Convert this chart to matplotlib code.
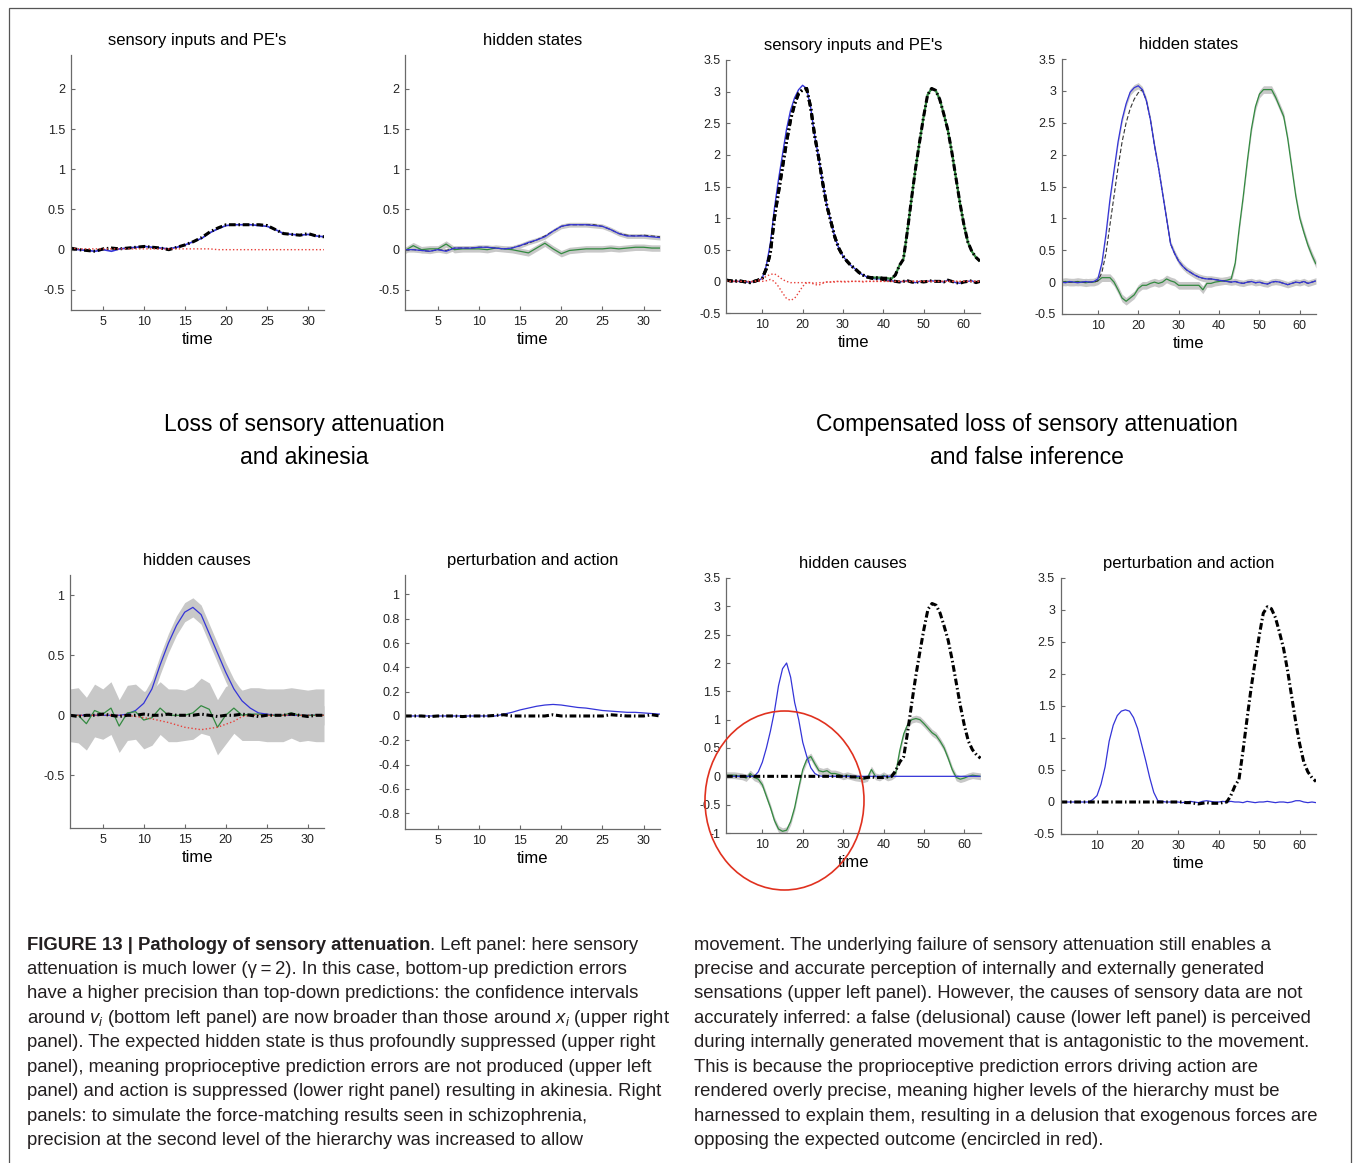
import numpy as np
import matplotlib
matplotlib.use('Agg')
import matplotlib.pyplot as plt
from matplotlib import font_manager
from matplotlib.patches import Ellipse, Rectangle
from matplotlib.ticker import FuncFormatter

W, H = 1355, 1163

installed = {f.name for f in font_manager.fontManager.ttflist}
NARROW = 'Liberation Sans Narrow' in installed

plt.rcParams['font.family'] = ['Liberation Sans', 'DejaVu Sans']
plt.rcParams['mathtext.fontset'] = 'custom'
plt.rcParams['mathtext.it'] = 'Liberation Sans:italic'
plt.rcParams['mathtext.rm'] = 'Liberation Sans'

# ---------------- data ----------------
t32 = np.arange(1, 33)
t64 = np.arange(1, 65)

# left: loss of sensory attenuation
s_left_obs = [0.02, 0.00, -0.01, -0.02, 0.01, 0.02, 0.01, 0.02, 0.03, 0.04, 0.03, 0.02, 0.00,
              0.03, 0.06, 0.10, 0.15, 0.22, 0.27, 0.31, 0.31, 0.31, 0.31, 0.31, 0.30, 0.25,
              0.20, 0.19, 0.18, 0.20, 0.17, 0.16]
s_left_pred = [0.01, 0.00, -0.01, -0.02, 0.00, -0.02, 0.01, 0.02, 0.03, 0.04, 0.03, 0.02, 0.01,
               0.03, 0.06, 0.10, 0.14, 0.21, 0.26, 0.30, 0.31, 0.31, 0.31, 0.30, 0.29, 0.25,
               0.20, 0.19, 0.18, 0.19, 0.17, 0.16]
s_left_pe = [0.02, 0.01, 0.01, 0.01, 0.01, 0.01, 0.01, 0.01, 0.01, 0.01, 0.01, 0.01, 0.01,
             0.01, 0.01, 0.01, 0.01, 0.01, 0.00, 0.00, 0.00, 0.00, 0.00, 0.00, 0.00, 0.00,
             0.00, 0.00, 0.00, 0.00, 0.00, 0.00]

x_left_1 = [0.00, 0.00, -0.01, -0.02, 0.00, -0.02, 0.02, 0.02, 0.02, 0.03, 0.03, 0.02, 0.01,
            0.02, 0.05, 0.09, 0.12, 0.16, 0.23, 0.29, 0.31, 0.31, 0.31, 0.30, 0.29, 0.25,
            0.20, 0.17, 0.17, 0.17, 0.16, 0.15]
x_left_true = [0.00, 0.00, -0.01, -0.02, 0.00, -0.01, 0.02, 0.02, 0.02, 0.03, 0.03, 0.02, 0.01,
               0.02, 0.05, 0.08, 0.12, 0.17, 0.23, 0.29, 0.31, 0.31, 0.31, 0.31, 0.29, 0.25,
               0.20, 0.18, 0.17, 0.18, 0.17, 0.16]
x_left_2 = [-0.01, 0.05, 0.00, 0.01, 0.01, 0.07, 0.00, 0.01, 0.01, 0.01, 0.00, 0.02, 0.01,
            0.00, -0.02, -0.04, 0.02, 0.08, 0.01, -0.05, -0.01, 0.00, 0.01, 0.01, 0.01, 0.02,
            0.01, 0.02, 0.03, 0.03, 0.02, 0.02]
x_left_ci1 = 0.03
x_left_ci2 = 0.04

v_left_1 = [0, 0, 0, 0, 0, 0, 0, 0.01, 0.04, 0.10, 0.22, 0.42, 0.60, 0.75, 0.86, 0.90, 0.84,
            0.68, 0.52, 0.36, 0.22, 0.12, 0.06, 0.02, 0.01, 0, 0, 0, 0, 0, 0, 0]
v_left_ci1 = 0.08
v_left_2 = [0.00, 0.00, -0.07, 0.04, 0.01, 0.06, -0.09, 0.02, 0.03, -0.04, -0.02, 0.06, 0.00,
            0.00, 0.00, 0.02, 0.08, 0.05, -0.10, 0.00, 0.06, 0.00, 0.01, 0.01, 0.00, 0.00,
            0.00, 0.02, 0.00, 0.00, 0.00, 0.00]
v_left_ci2 = [0.22, 0.23, 0.22, 0.22, 0.21, 0.22, 0.22, 0.23, 0.23, 0.24, 0.23, 0.22, 0.22,
              0.22, 0.21, 0.22, 0.23, 0.22, 0.23, 0.24, 0.21, 0.21, 0.22, 0.22, 0.22, 0.22,
              0.22, 0.21, 0.22, 0.21, 0.22, 0.22]
v_left_pe = [0, 0, 0, 0, 0, 0, 0, 0, -0.01, -0.02, -0.03, -0.045, -0.06, -0.08, -0.10, -0.11,
             -0.12, -0.11, -0.10, -0.075, -0.05, -0.01, 0, 0, 0, 0, 0, 0, 0, 0, 0, 0]
v_left_true = [0.00, -0.01, 0.00, 0.00, 0.01, 0.00, -0.01, 0.00, 0.00, 0.01, 0.00, 0.00, 0.01,
               0.00, 0.00, 0.00, 0.01, 0.00, -0.01, 0.00, 0.00, 0.01, 0.00, -0.01, 0.00, 0.00,
               0.00, 0.01, 0.00, -0.01, 0.00, 0.00]

a_left = [0, 0, 0, 0, 0, 0, 0, 0, 0, 0, 0, 0, 0.015, 0.03, 0.05, 0.065, 0.08, 0.09, 0.095,
          0.09, 0.08, 0.07, 0.065, 0.055, 0.045, 0.04, 0.035, 0.03, 0.03, 0.025, 0.02, 0.015]
pert_left = [0.00, 0.00, 0.00, -0.005, 0.00, 0.00, 0.00, -0.005, 0.00, 0.00, 0.00, 0.005,
             0.01, 0.00, 0.00, 0.00, 0.00, 0.00, 0.01, 0.00, 0.00, 0.00, 0.00, 0.00, 0.00,
             0.01, 0.005, 0.00, 0.00, 0.00, 0.01, 0.00]

# right: compensated loss of sensory attenuation
s_right_a_obs = [0.02, 0.01, 0.00, 0.01, 0.00, -0.01, -0.02, 0.00, 0.02,
                 0.05, 0.20, 0.45, 1.00, 1.40, 1.80, 2.20, 2.55, 2.80, 2.97, 3.03, 3.05,
                 2.75, 2.30, 1.95, 1.55, 1.20, 0.95, 0.70, 0.52, 0.40, 0.32, 0.25, 0.20,
                 0.14, 0.10, 0.07,
                 0.05, 0.04, 0.04, 0.03, 0.02, 0.01,
                 0.00, -0.01, 0.00, 0.01, -0.01, -0.02, 0.00, -0.01, 0.00, 0.01, 0.00, 0.00,
                 -0.01, 0.02, 0.00, -0.02, -0.03, -0.01, 0.00, 0.01, -0.02, 0.00]
s_right_a_pred = [0.01, 0.00, 0.00, 0.00, 0.00, -0.01, -0.01, 0.00, 0.01,
                  0.05, 0.25, 0.60, 1.15, 1.60, 2.00, 2.40, 2.70, 2.90, 3.03, 3.10, 3.05] \
                 + s_right_a_obs[21:]
s_right_b_obs = s_right_a_obs[:36] + [0.06, 0.06, 0.06, 0.05, 0.05, 0.04,
                                      0.10, 0.25, 0.35, 0.80, 1.30, 1.78, 2.20, 2.60, 2.95,
                                      3.05, 3.02, 2.88, 2.65, 2.40, 2.05, 1.65, 1.25, 0.90,
                                      0.62, 0.47, 0.38, 0.32]
s_right_pe_a = [0.01, 0.00, 0.00, 0.00, 0.00, 0.00, -0.01, 0.00, 0.02, 0.04,
                0.08, 0.11, 0.12, 0.08, 0.03, 0.00, -0.02, -0.02, -0.02, -0.02,
                -0.02, -0.02, -0.03, -0.02, -0.02, -0.01, -0.01, -0.01, 0.00, -0.01,
                -0.01, 0.00, 0.00, 0.00, -0.01, 0.00, 0.00, 0.00, 0.00, 0.00] + [0.00] * 24
s_right_pe_b = [0.00] * 9 + [0.00, 0.01, 0.03, 0.00, -0.08, -0.18, -0.27, -0.30, -0.27,
                             -0.18, -0.08, -0.02, -0.02, -0.05, -0.06, -0.03, -0.01,
                             -0.01] + [0.00] * 37

x_right_a = [0.00, -0.01, 0.01, 0.00, -0.01, 0.00, 0.01, 0.00, 0.01,
             0.05, 0.30, 0.75, 1.30, 1.75, 2.20, 2.55, 2.80, 2.98, 3.05, 3.08, 3.02,
             2.85, 2.55, 2.15, 1.80, 1.40, 1.00, 0.60, 0.45, 0.33, 0.25, 0.19, 0.15,
             0.11, 0.08, 0.06,
             0.05, 0.05, 0.04, 0.03, 0.02, 0.01,
             0.00, 0.01, -0.01, -0.02, 0.00, 0.01, -0.01, 0.00, -0.02, -0.03, 0.00, 0.01,
             0.00, -0.02, -0.04, -0.02, 0.00, -0.01, 0.01, -0.02, 0.00, 0.02]
x_right_a_true = [0.00] * 9 + [0.02, 0.15, 0.45, 0.90, 1.35, 1.80, 2.20, 2.50, 2.72, 2.87,
                               2.97, 3.02] + x_right_a[21:]
x_right_b = [0.00, 0.01, 0.00, 0.00, 0.01, 0.00, -0.01, 0.00, 0.00, 0.02,
             0.07, 0.07, 0.07, 0.00, -0.12, -0.25, -0.30, -0.25, -0.20, -0.10,
             -0.05, -0.05, -0.02, 0.00, -0.02, 0.00, 0.05, 0.02, 0.00, -0.05,
             -0.05, -0.05, -0.05, -0.05, -0.05, -0.12, -0.02, -0.02, 0.00, 0.01,
             0.02, 0.03, 0.05, 0.30, 0.85, 1.35, 1.90, 2.40, 2.75, 2.95,
             3.02, 3.02, 3.02, 2.90, 2.75, 2.60, 2.25, 1.80, 1.35, 1.00,
             0.78, 0.58, 0.42, 0.28]
x_right_ci_a = 0.05
x_right_ci_b = 0.06

v_right_1 = [0, 0, 0, 0, 0, 0, 0, 0, 0.08, 0.25, 0.50, 0.80, 1.15, 1.60, 1.90, 2.00, 1.75,
             1.30, 1.00, 0.60, 0.35, 0.15, 0.05, 0.01] + [0.0] * 40
v_right_2 = [0.02, 0.02, 0.02, 0.01, 0.00, -0.03, 0.05, -0.02, -0.05, -0.15,
             -0.35, -0.55, -0.78, -0.93, -0.97, -0.95, -0.80, -0.55, -0.20, 0.12,
             0.30, 0.35, 0.22, 0.10, 0.08, 0.10, 0.05, 0.05, 0.03, 0.00,
             0.02, 0.00, -0.02, -0.03, -0.05, -0.03, 0.12, 0.00, -0.02, 0.02,
             -0.02, 0.00, 0.05, 0.45, 0.75, 0.92, 1.00, 1.02, 1.00, 0.93,
             0.85, 0.77, 0.72, 0.62, 0.50, 0.32, 0.12, -0.02, -0.05, -0.03,
             0.00, 0.02, 0.01, 0.00]
v_right_ci2 = 0.06

pert_right = [0.00] * 30 + [0.00, -0.01, -0.01, -0.02, -0.03, -0.02, -0.01, -0.02, -0.02,
                            -0.02, -0.01, 0.00] + s_right_b_obs[42:]
a_right = [0, 0, 0, 0, 0, 0, 0, 0, 0.04, 0.10, 0.28, 0.55, 0.95, 1.20, 1.35, 1.42, 1.44,
           1.42, 1.32, 1.15, 0.90, 0.65, 0.38, 0.15, 0.02, 0.01, 0.00, 0.00, 0.00, 0.00,
           -0.01, 0.00, 0.01, 0.00, -0.01, 0.01, 0.02, 0.01, 0.00, 0.00, 0.01, 0.00,
           0.01, 0.00, 0.00, -0.01, 0.01, 0.00, -0.01, 0.00, 0.00, 0.01, 0.00, -0.01,
           0.00, 0.00, -0.01, 0.00, 0.02, 0.02, 0.00, -0.01, 0.00, -0.01]

caption_left_bold = "FIGURE 13 | Pathology of sensory attenuation"
caption_left = [
    ". Left panel: here sensory",
    "attenuation is much lower (\u03b3\u2009=\u20092). In this case, bottom-up prediction errors",
    "have a higher precision than top-down predictions: the confidence intervals",
    r"around $v_i$ (bottom left panel) are now broader than those around $x_i$ (upper right",
    "panel). The expected hidden state is thus profoundly suppressed (upper right",
    "panel), meaning proprioceptive prediction errors are not produced (upper left",
    "panel) and action is suppressed (lower right panel) resulting in akinesia. Right",
    "panels: to simulate the force-matching results seen in schizophrenia,",
    "precision at the second level of the hierarchy was increased to allow",
]
caption_right = [
    "movement. The underlying failure of sensory attenuation still enables a",
    "precise and accurate perception of internally and externally generated",
    "sensations (upper left panel). However, the causes of sensory data are not",
    "accurately inferred: a false (delusional) cause (lower left panel) is perceived",
    "during internally generated movement that is antagonistic to the movement.",
    "This is because the proprioceptive prediction errors driving action are",
    "rendered overly precise, meaning higher levels of the hierarchy must be",
    "harnessed to explain them, resulting in a delusion that exogenous forces are",
    "opposing the expected outcome (encircled in red).",
]

# ---------------- styles ----------------
BLUE = '#3434d8'
GREEN = '#338a40'
RED = '#e8403a'
BAND = '#c8c8c8'
DASHDOT = (0, (2.2, 0.9, 0.5, 0.9))

fig = plt.figure(figsize=(W / 100, H / 100), dpi=100)
fig.patch.set_facecolor('white')


def px_axes(x0, y0, x1, y1):
    return fig.add_axes([x0 / W, 1 - y1 / H, (x1 - x0) / W, (y1 - y0) / H])


def style(ax, title, xlim, xticks, ylim, yticks):
    ax.set_xlim(xlim)
    ax.set_ylim(ylim)
    ax.set_xticks(xticks)
    ax.set_yticks(yticks)
    ax.yaxis.set_major_formatter(FuncFormatter(lambda v, p: '%g' % (round(v, 2) + 0.0)))
    for s in ['top', 'right']:
        ax.spines[s].set_visible(False)
    for s in ['left', 'bottom']:
        ax.spines[s].set_color('#6a6a6a')
        ax.spines[s].set_linewidth(0.9)
    ax.tick_params(direction='in', length=3, width=0.8, color='#6a6a6a',
                   labelsize=9, labelcolor='#222222', pad=4)
    ax.set_title(title, fontsize=12, pad=7)
    ax.set_xlabel('time', fontsize=12, labelpad=3)


def solid(ax, t, y, color, lw=0.9):
    ax.plot(t, y, color=color, lw=lw, solid_capstyle='butt')


def band(ax, t, y, ci):
    y = np.asarray(y)
    ax.fill_between(t, y - np.asarray(ci), y + np.asarray(ci), color=BAND, lw=0)


def dashdot(ax, t, y):
    ax.plot(t, y, color='black', lw=2.2, linestyle=DASHDOT)


def dotted(ax, t, y):
    ax.plot(t, y, color=RED, lw=1.0, linestyle=(0, (1, 1.6)))


left_xt = [5, 10, 15, 20, 25, 30]
right_xt = [10, 20, 30, 40, 50, 60]
half = np.arange(-0.5, 3.51, 0.5)

# panel 1: sensory inputs and PE's (left)
ax = px_axes(70.5, 55, 324.5, 310)
solid(ax, t32, s_left_pred, BLUE, 1.2)
dashdot(ax, t32, s_left_obs)
dotted(ax, t32, s_left_pe)
style(ax, "sensory inputs and PE's", (1, 32), left_xt, (-0.75, 2.42), np.arange(-0.5, 2.01, 0.5))

# panel 2: hidden states (left)
ax = px_axes(405, 55, 660, 310)
band(ax, t32, x_left_2, x_left_ci2)
band(ax, t32, x_left_1, x_left_ci1)
solid(ax, t32, x_left_2, GREEN)
ax.plot(t32, x_left_true, color='#333333', lw=0.8, linestyle=(0, (4, 2)))
solid(ax, t32, x_left_1, BLUE)
style(ax, "hidden states", (1, 32), left_xt, (-0.75, 2.42), np.arange(-0.5, 2.01, 0.5))

# panel 3: sensory inputs and PE's (right)
ax = px_axes(726, 60, 980, 313)
solid(ax, t64, s_right_a_pred, BLUE, 1.0)
solid(ax, t64[35:], s_right_b_obs[35:], GREEN, 1.6)
dashdot(ax, t64, s_right_b_obs)
dashdot(ax, t64, s_right_a_obs)
dotted(ax, t64, s_right_pe_a)
dotted(ax, t64, s_right_pe_b)
style(ax, "sensory inputs and PE's", (1, 64), right_xt, (-0.5, 3.5), half)

# panel 4: hidden states (right)
ax = px_axes(1061.5, 59, 1316, 314)
band(ax, t64, x_right_b, x_right_ci_b)
band(ax, t64, x_right_a, x_right_ci_a)
solid(ax, t64, x_right_b, GREEN)
ax.plot(t64, x_right_a_true, color='#333333', lw=0.8, linestyle=(0, (4, 2)))
solid(ax, t64, x_right_a, BLUE)
style(ax, "hidden states", (1, 64), right_xt, (-0.5, 3.5), half)

# panel 5: hidden causes (left)
ax = px_axes(70, 575, 324, 828)
band(ax, t32, v_left_2, v_left_ci2)
band(ax, t32, v_left_1, v_left_ci1)
solid(ax, t32, v_left_1, BLUE)
solid(ax, t32, v_left_2, GREEN)
dotted(ax, t32, v_left_pe)
dashdot(ax, t32, v_left_true)
style(ax, "hidden causes", (1, 32), left_xt, (-0.94, 1.17), [-0.5, 0, 0.5, 1])

# panel 6: perturbation and action (left)
ax = px_axes(405, 575, 660, 829)
solid(ax, t32, a_left, BLUE)
dashdot(ax, t32, pert_left)
style(ax, "perturbation and action", (1, 32), left_xt, (-0.93, 1.16), np.arange(-0.8, 1.01, 0.2))

# panel 7: hidden causes (right)
ax = px_axes(726, 578, 980.5, 833)
band(ax, t64, v_right_2, v_right_ci2)
solid(ax, t64, v_right_2, GREEN)
solid(ax, t64, v_right_1, BLUE)
dashdot(ax, t64, pert_right)
style(ax, "hidden causes", (1, 64), right_xt, (-1, 3.5), np.arange(-1, 3.51, 0.5))

# panel 8: perturbation and action (right)
ax = px_axes(1060.5, 578, 1316, 834)
solid(ax, t64, a_right, BLUE)
dashdot(ax, t64, pert_right)
style(ax, "perturbation and action", (1, 64), right_xt, (-0.5, 3.5), half)

# red circle around the false inference
fig.add_artist(Ellipse((784.5 / W, 1 - 800.5 / H), 159 / W, 179 / H, fill=False,
                       ec='#e0311f', lw=1.2, transform=fig.transFigure))

# group titles
if NARROW:
    gfam, gsize = ['Liberation Sans Narrow', 'Liberation Sans'], 20
else:
    gfam, gsize = ['Liberation Sans', 'DejaVu Sans'], 16.5
for txt, cx, cy in [("Loss of sensory attenuation", 304, 425), ("and akinesia", 304, 458),
                    ("Compensated loss of sensory attenuation", 1027, 425),
                    ("and false inference", 1027, 458)]:
    fig.text(cx / W, 1 - cy / H, txt, ha='center', va='center', fontsize=gsize, family=gfam)

# caption
renderer = fig.canvas.get_renderer()
cap_kw = dict(fontsize=13.3, color='#231f20', va='baseline', family=['Liberation Sans', 'DejaVu Sans'])
base0, step = 949.5, 24.45
tb = fig.text(27 / W, 1 - base0 / H, caption_left_bold, fontweight='bold', **cap_kw)
bb = tb.get_window_extent(renderer)
fig.text(bb.x1 / W, 1 - base0 / H, caption_left[0], **cap_kw)
for i, line in enumerate(caption_left[1:], start=1):
    fig.text(27 / W, 1 - (base0 + i * step) / H, line, **cap_kw)
for i, line in enumerate(caption_right):
    fig.text(694 / W, 1 - (base0 + i * step) / H, line, **cap_kw)

# outer frame
fig.add_artist(Rectangle((9 / W, -0.01), (1351 - 9) / W, 1.01 - 8 / H, fill=False,
                         ec='#555555', lw=0.9, transform=fig.transFigure))

fig.savefig('out.png', dpi=100, facecolor='white')
